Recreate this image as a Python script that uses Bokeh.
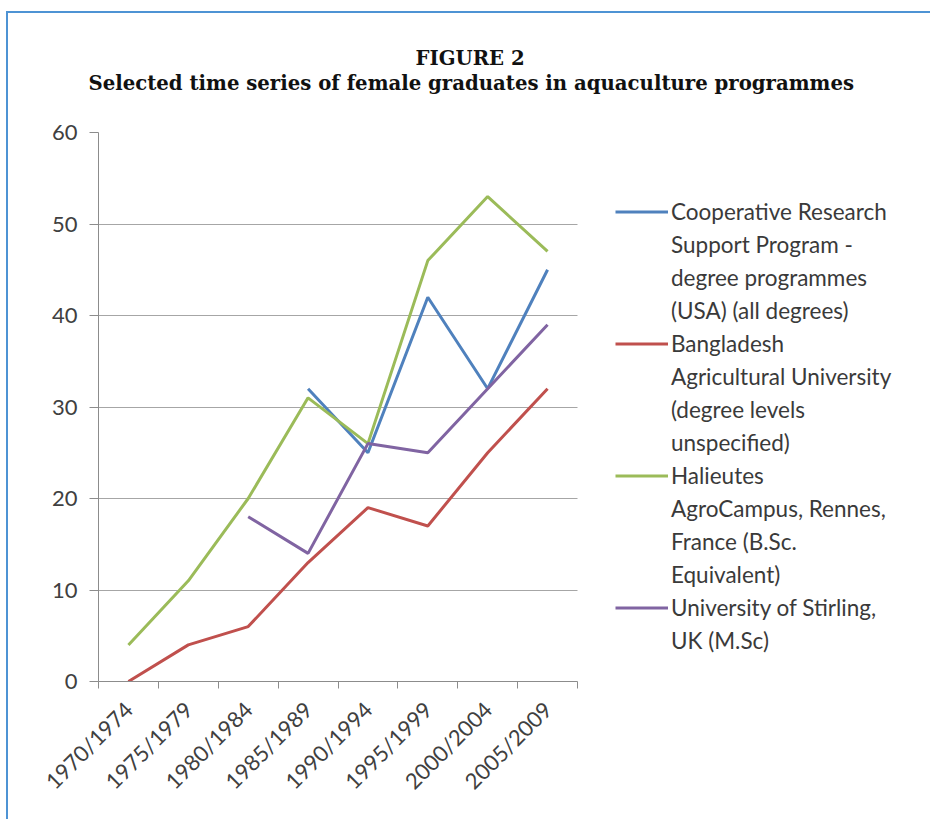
import math
from bokeh.plotting import figure
from bokeh.models import (Range1d, FixedTicker, Legend, LegendItem, Title, ColumnDataSource)
from bokeh.embed import file_html
from bokeh.resources import INLINE

# ---- data ----
periods = ["1970/1974", "1975/1979", "1980/1984", "1985/1989",
           "1990/1994", "1995/1999", "2000/2004", "2005/2009"]
nan = float("nan")
crsp = [nan, nan, nan, 32, 25, 42, 32, 45]
bangladesh = [0, 4, 6, 13, 19, 17, 25, 32]
halieutes = [4, 11, 20, 31, 26, 46, 53, 47]
stirling = [nan, nan, 18, 14, 26, 25, 32, 39]

series_names = [
    ["Cooperative Research", "Support Program -", "degree programmes", "(USA) (all degrees)"],
    ["Bangladesh", "Agricultural University", "(degree levels", "unspecified)"],
    ["Halieutes", "AgroCampus, Rennes,", "France (B.Sc.", "Equivalent)"],
    ["University of Stirling,", "UK (M.Sc)"],
]
series_values = [crsp, bangladesh, halieutes, stirling]
series_colors = ["#4F81BD", "#C0504D", "#9BBB59", "#8064A2"]
y_ticks = [0, 10, 20, 30, 40, 50, 60]

title_line1 = "FIGURE 2"
title_line2 = "Selected time series of female graduates in aquaculture programmes"

FONT = "Lato"
AXIS_GRAY = "#8C8C8C"
TEXT_GRAY = "#404040"

W, H = 930, 819
LEFT, TOP, BOTTOM = 98, 132, 138
PLOT_W = 479                     # width of the chart area that holds the categories
FRAME_W = W - LEFT               # frame runs to the right edge; legend sits in it
n = len(periods)
xs = [i + 0.5 for i in range(n)]

p = figure(width=W, height=H, output_backend="svg", toolbar_location=None,
           x_range=Range1d(0, n * FRAME_W / PLOT_W), y_range=Range1d(0, 60),
           min_border_left=LEFT, min_border_right=0, min_border_top=TOP,
           min_border_bottom=BOTTOM)
p.styles = {"box-shadow": "inset 6px 11px 0 0 #FFFFFF, inset 8px 13px 0 0 #4E93D4",
            "background-color": "#FFFFFF"}
p.outline_line_color = None
p.background_fill_color = None
p.border_fill_color = None

# x axis: labels at category centers, tick marks at category boundaries
p.xaxis.bounds = (0, n)
p.xaxis.ticker = FixedTicker(ticks=xs, minor_ticks=list(range(n + 1)))
p.xaxis.major_label_overrides = {x: lab for x, lab in zip(xs, periods)}
p.xaxis.major_tick_line_color = None
p.xaxis.minor_tick_line_color = AXIS_GRAY
p.xaxis.minor_tick_out = 7
p.xaxis.minor_tick_in = 0
p.xaxis.axis_line_color = AXIS_GRAY
p.xaxis.major_label_orientation = math.pi / 4
p.xaxis.major_label_text_font = FONT
p.xaxis.major_label_text_font_size = "22px"
p.xaxis.major_label_text_color = TEXT_GRAY
p.xaxis.major_label_standoff = 17
p.xgrid.grid_line_color = None

p.yaxis.ticker = FixedTicker(ticks=y_ticks)
p.yaxis.axis_line_color = AXIS_GRAY
p.yaxis.major_tick_line_color = AXIS_GRAY
p.yaxis.major_tick_out = 9
p.yaxis.major_tick_in = 0
p.yaxis.minor_tick_line_color = None
p.yaxis.major_label_text_font = FONT
p.yaxis.major_label_text_font_size = "22px"
p.yaxis.major_label_text_color = TEXT_GRAY
p.yaxis.major_label_standoff = 12
p.ygrid.ticker = FixedTicker(ticks=y_ticks)
p.ygrid.cross_bounds = (0, n)
p.ygrid.grid_line_color = "#A6A6A6"
p.ygrid.grid_line_width = 1

# invisible renderer used for the continuation lines of the legend labels
blank = p.line(x=[], y=[], line_alpha=0)

items = []
for lines, vals, col in zip(series_names, series_values, series_colors):
    src = ColumnDataSource(dict(x=xs, y=vals))
    r = p.line("x", "y", source=src, line_color=col, line_width=3)
    items.append(LegendItem(label=lines[0], renderers=[r]))
    for extra in lines[1:]:
        items.append(LegendItem(label=extra, renderers=[blank]))

legend = Legend(items=items, location=(517, 24), padding=0, margin=0,
                glyph_width=53, glyph_height=33, label_height=33, label_standoff=3,
                spacing=0, label_text_font=FONT, label_text_font_size="22.5px",
                label_text_color="#3A3A3A", border_line_color=None,
                background_fill_alpha=0)
p.add_layout(legend, "center")

# spacer between the plot area and the two title lines
p.add_layout(Title(text=" ", standoff=35, text_font_size="1px"), "above")
p.add_layout(Title(text=title_line2, align="left", offset=-10, standoff=0,
                   text_font="DejaVu Serif", text_font_style="bold",
                   text_font_size="19.7px", text_color="#111111"), "above")
p.add_layout(Title(text=title_line1, align="left", offset=317, standoff=0,
                   text_font="DejaVu Serif", text_font_style="bold",
                   text_font_size="19.7px", text_color="#111111"), "above")

open("out.html", "w").write(file_html(p, INLINE))
